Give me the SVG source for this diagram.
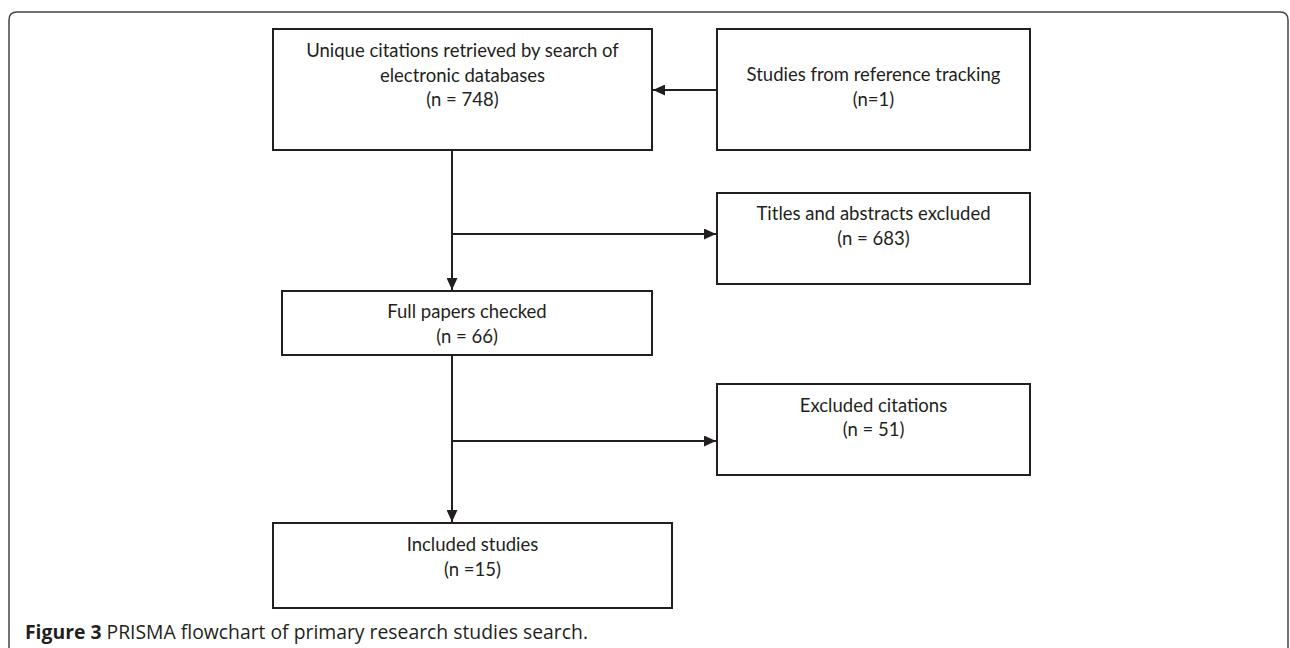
<svg xmlns="http://www.w3.org/2000/svg" width="1290" height="648" viewBox="0 0 1290 648">
<defs>
<style>
.box{fill:#fff;stroke:#231f20;stroke-width:2}
.t{font-family:Lato,"Open Sans",sans-serif;font-size:18.5px;fill:#231f20;text-anchor:middle}
.ln{fill:none;stroke:#231f20;stroke-width:2}
.cap{font-family:"Open Sans","Noto Sans",sans-serif;font-size:19.5px;fill:#231f20}
</style>
<marker id="ah" markerWidth="12" markerHeight="11" refX="12" refY="5.5" orient="auto" markerUnits="userSpaceOnUse">
<path d="M0,0 L12,5.5 L0,11 Z" fill="#231f20"/>
</marker>
</defs>
<rect width="1290" height="648" fill="#fff"/>
<path d="M9,660 L9,20 Q9,12 17,12 L1280,12 Q1288,12 1288,20 L1288,660" fill="none" stroke="#444" stroke-width="1.5"/>
<g id="connectors">
<line class="ln" x1="717" y1="90" x2="653" y2="90" marker-end="url(#ah)"/>
<line class="ln" x1="452" y1="150" x2="452" y2="290" marker-end="url(#ah)"/>
<line class="ln" x1="452" y1="234" x2="716" y2="234" marker-end="url(#ah)"/>
<line class="ln" x1="452" y1="355" x2="452" y2="522" marker-end="url(#ah)"/>
<line class="ln" x1="452" y1="441" x2="716" y2="441" marker-end="url(#ah)"/>
</g>
<g id="n1">
<rect class="box" x="273" y="29" width="379" height="121"/>
<text class="t" x="462.5" y="57">Unique citations retrieved by search of</text>
<text class="t" x="462.5" y="82">electronic databases</text>
<text class="t" x="462.5" y="106">(n = 748)</text>
</g>
<g id="n2">
<rect class="box" x="717" y="29" width="313" height="121"/>
<text class="t" x="873.5" y="81">Studies from reference tracking</text>
<text class="t" x="873.5" y="106">(n=1)</text>
</g>
<g id="n3">
<rect class="box" x="717" y="193" width="313" height="91"/>
<text class="t" x="873.5" y="220">Titles and abstracts excluded</text>
<text class="t" x="873.5" y="245">(n = 683)</text>
</g>
<g id="n4">
<rect class="box" x="282" y="291" width="370" height="64"/>
<text class="t" x="467" y="318">Full papers checked</text>
<text class="t" x="467" y="343">(n = 66)</text>
</g>
<g id="n5">
<rect class="box" x="717" y="384" width="313" height="91"/>
<text class="t" x="873.5" y="412">Excluded citations</text>
<text class="t" x="873.5" y="436">(n = 51)</text>
</g>
<g id="n6">
<rect class="box" x="273" y="523" width="399" height="85"/>
<text class="t" x="472.5" y="551">Included studies</text>
<text class="t" x="472.5" y="576">(n =15)</text>
</g>
<text class="cap" x="25" y="639" textLength="563" lengthAdjust="spacingAndGlyphs"><tspan font-weight="bold">Figure 3</tspan> PRISMA flowchart of primary research studies search.</text>
</svg>
